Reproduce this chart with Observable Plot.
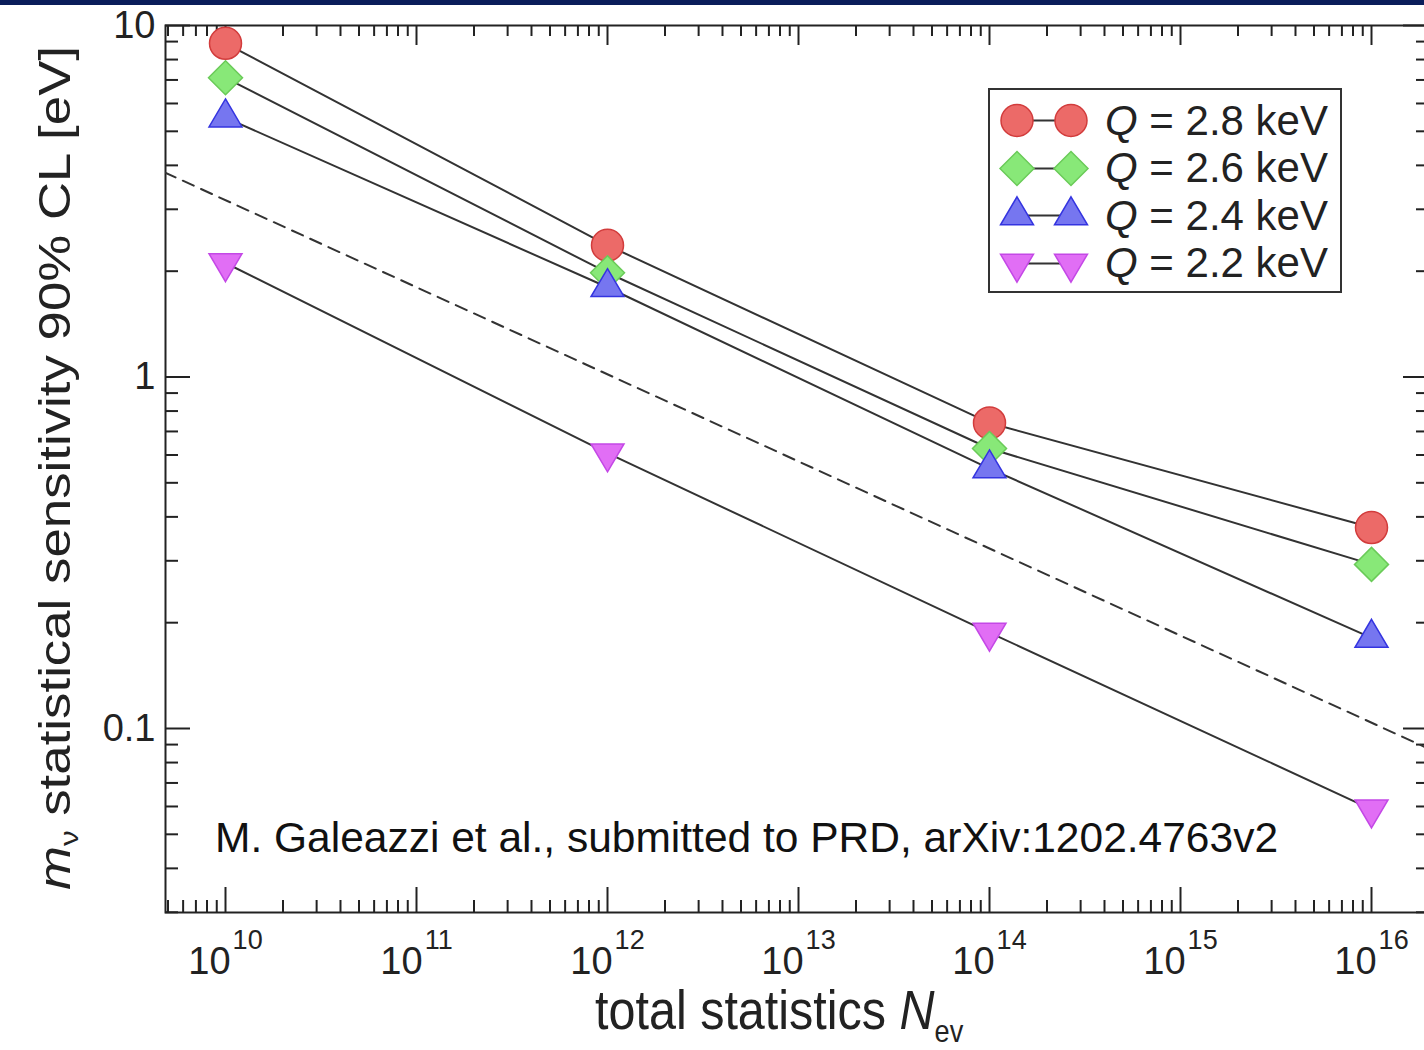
<!DOCTYPE html>
<html><head><meta charset="utf-8">
<script src="https://cdn.jsdelivr.net/npm/d3@7"></script>
<script src="https://cdn.jsdelivr.net/npm/@observablehq/plot@0.6"></script>
<style>
body{margin:0;background:#fff;overflow:hidden}
#wrap{position:relative;width:1424px;height:1050px;overflow:hidden;font-family:"Liberation Sans",Arial,sans-serif;color:#222}
#wrap svg.plot{position:absolute;left:0;top:0}
#bar{position:absolute;left:0;top:0;width:1424px;height:5px;background:#0a1d5a}
#ylab{position:absolute;left:57px;top:468px;white-space:nowrap;font-size:44px;transform:translate(-50%,-50%) rotate(-90deg) scaleX(1.2);}
#xlab{position:absolute;left:595px;top:982px;white-space:nowrap;font-size:50px;line-height:50px;transform-origin:left top;transform:scaleX(0.97) scaleY(1.12)}
#caption{position:absolute;left:215px;top:817px;white-space:nowrap;font-size:42.5px;line-height:42.5px;color:#111}
#legend{position:absolute;left:988px;top:88px;width:350px;height:201px;border:2px solid #333;background:#fff}
.row{position:absolute;left:0;height:47px;display:flex;align-items:center}
.row svg{display:block}
.row span{font-size:42px;margin-left:5px;white-space:nowrap}
</style></head><body><div id="wrap"><div id="bar"></div></div>
<script>
// ---- data ----
const Nev = [1e10, 1e12, 1e14, 1e16];
const seriesNames = ["Q = 2.8 keV", "Q = 2.6 keV", "Q = 2.4 keV", "Q = 2.2 keV"];
const q28 = [8.9, 2.37, 0.74, 0.373];
const q26 = [7.1, 1.98, 0.626, 0.293];
const q24 = [5.47, 1.80, 0.549, 0.181];
const q22 = [2.11, 0.607, 0.1875, 0.0589];
const refN = [4.8e9, 2.0e16];
const refM = [3.82, 0.0875];
const xTickValues = [1e10, 1e11, 1e12, 1e13, 1e14, 1e15, 1e16];
const yTickValues = [0.1, 1, 10];
const yTickLabels = ["0.1", "1", "10"];

// ---- styles ----
const fills = ["#ec6a68", "#88e878", "#7676f0", "#e16ef5"];
const strokes = ["#d23c3c", "#6acb58", "#3434e0", "#c448e6"];
const symCircle = {draw(c){ c.moveTo(16,0); c.arc(0,0,16,0,2*Math.PI); c.closePath(); }};
const symDiamond = {draw(c){ const r=17; c.moveTo(0,-r); c.lineTo(r,0); c.lineTo(0,r); c.lineTo(-r,0); c.closePath(); }};
const symUp = {draw(c){ const h=28, w=33; c.moveTo(0,-h*2/3); c.lineTo(w/2,h/3); c.lineTo(-w/2,h/3); c.closePath(); }};
const symDown = {draw(c){ const h=28, w=33; c.moveTo(0,h*2/3); c.lineTo(w/2,-h/3); c.lineTo(-w/2,-h/3); c.closePath(); }};
const symbols = [symCircle, symDiamond, symUp, symDown];

const values = [q28, q26, q24, q22];
const rows = [];
seriesNames.forEach((s, i) => Nev.forEach((n, j) => rows.push({series: s, N: n, m: values[i][j]})));
const refLine = refN.map((n, i) => ({N: n, m: refM[i]}));

const W = 1424, H = 1050, mL = 165, mT = 25, mB = H - 912, mR = -4;
const plotW = W - mR - mL, plotH = H - mT - mB;
const xDom = [Math.pow(10, 10 - 60/191), Math.pow(10, 16 + 57/191)];
const yDom = [Math.pow(10, 1 - 887/351.5), 10];
const isMajor = v => Math.abs(Math.log10(v) - Math.round(Math.log10(v))) < 1e-9;
const xMinor = d3.scaleLog().domain(xDom).ticks().filter(v => !isMajor(v));
const yMinor = d3.scaleLog().domain(yDom).ticks().filter(v => !isMajor(v) && v >= yDom[0]);
const tickStroke = {stroke: "#222", strokeWidth: 2};

const marks = [
  Plot.ruleX(xMinor, {...tickStroke, insetTop: plotH - 12}),
  Plot.ruleX(xTickValues, {...tickStroke, insetTop: plotH - 25}),
  Plot.ruleX(xMinor, {...tickStroke, insetBottom: plotH - 11}),
  Plot.ruleX(xTickValues, {...tickStroke, insetBottom: plotH - 20}),
  Plot.ruleY(yMinor, {...tickStroke, insetRight: plotW - 13}),
  Plot.ruleY(yTickValues, {...tickStroke, insetRight: plotW - 25}),
  Plot.ruleY(yMinor, {...tickStroke, insetLeft: plotW - 12}),
  Plot.ruleY(yTickValues, {...tickStroke, insetLeft: plotW - 25}),
  Plot.frame({stroke: "#222", strokeWidth: 2}),
  Plot.axisX({ticks: xTickValues, tickSize: 0, tickPadding: 35, fontSize: 38, fill: "#222",
    tickFormat: d => String(Math.round(Math.log10(d))), label: null}),
  Plot.axisY({ticks: yTickValues, tickSize: 0, tickPadding: 10, fontSize: 38, fill: "#222",
    tickFormat: d => yTickLabels[yTickValues.indexOf(d)], label: null}),
  Plot.line(refLine, {x: "N", y: "m", stroke: "#333", strokeWidth: 2, strokeDasharray: "12,8", clip: true}),
  ...seriesNames.map((s, i) => Plot.line(rows.filter(d => d.series === s), {x: "N", y: "m", stroke: "#333", strokeWidth: 2})),
  ...seriesNames.map((s, i) => Plot.dot(rows.filter(d => d.series === s), {x: "N", y: "m", r: 16, symbol: symbols[i], fill: fills[i], stroke: strokes[i], strokeWidth: 1.5}))
];

const svg = Plot.plot({
  width: W, height: H,
  marginLeft: mL, marginTop: mT, marginBottom: mB, marginRight: mR,
  style: {fontFamily: "'Liberation Sans', Arial, sans-serif", background: "transparent", overflow: "visible"},
  x: {type: "log", domain: xDom},
  y: {type: "log", domain: yDom},
  marks
});
svg.classList.add("plot");
const wrap = document.getElementById("wrap");
wrap.insertBefore(svg, wrap.firstChild);

// superscript exponents on x tick labels
svg.querySelectorAll('g[aria-label="x-axis tick label"] text').forEach(t => {
  const e = t.textContent; t.textContent = "";
  const ns = "http://www.w3.org/2000/svg";
  const a = document.createElementNS(ns, "tspan"); a.textContent = "10";
  const b = document.createElementNS(ns, "tspan"); b.textContent = e;
  b.setAttribute("dy", "-25"); b.setAttribute("font-size", "27"); b.setAttribute("dx", "2");
  t.appendChild(a); t.appendChild(b);
});

// axis titles, caption
const ylab = document.createElement("div"); ylab.id = "ylab";
ylab.innerHTML = '<i>m</i><sub style="font-size:26px;vertical-align:-8px">ν</sub> statistical sensitivity 90% CL [eV]';
wrap.appendChild(ylab);
const xlab = document.createElement("div"); xlab.id = "xlab";
xlab.innerHTML = 'total statistics <i>N</i><sub style="font-size:28px;vertical-align:-12px">ev</sub>';
wrap.appendChild(xlab);
const cap = document.createElement("div"); cap.id = "caption";
cap.textContent = "M. Galeazzi et al., submitted to PRD, arXiv:1202.4763v2";
wrap.appendChild(cap);

// legend
const leg = document.createElement("div"); leg.id = "legend";
seriesNames.forEach((s, i) => {
  const row = document.createElement("div"); row.className = "row";
  row.style.top = (7 + i * 47.5) + "px";
  const p = d3.path(); symbols[i].draw(p);
  const path = p.toString();
  row.innerHTML = `<svg width="110" height="47" viewBox="0 0 110 47">
    <line x1="27" y1="23.5" x2="81" y2="23.5" stroke="#333" stroke-width="2"/>
    <path transform="translate(27,23.5)" d="${path}" fill="${fills[i]}" stroke="${strokes[i]}" stroke-width="1.5"/>
    <path transform="translate(81,23.5)" d="${path}" fill="${fills[i]}" stroke="${strokes[i]}" stroke-width="1.5"/>
  </svg><span><i>Q</i>${s.slice(1)}</span>`;
  leg.appendChild(row);
});
wrap.appendChild(leg);
</script></body></html>
